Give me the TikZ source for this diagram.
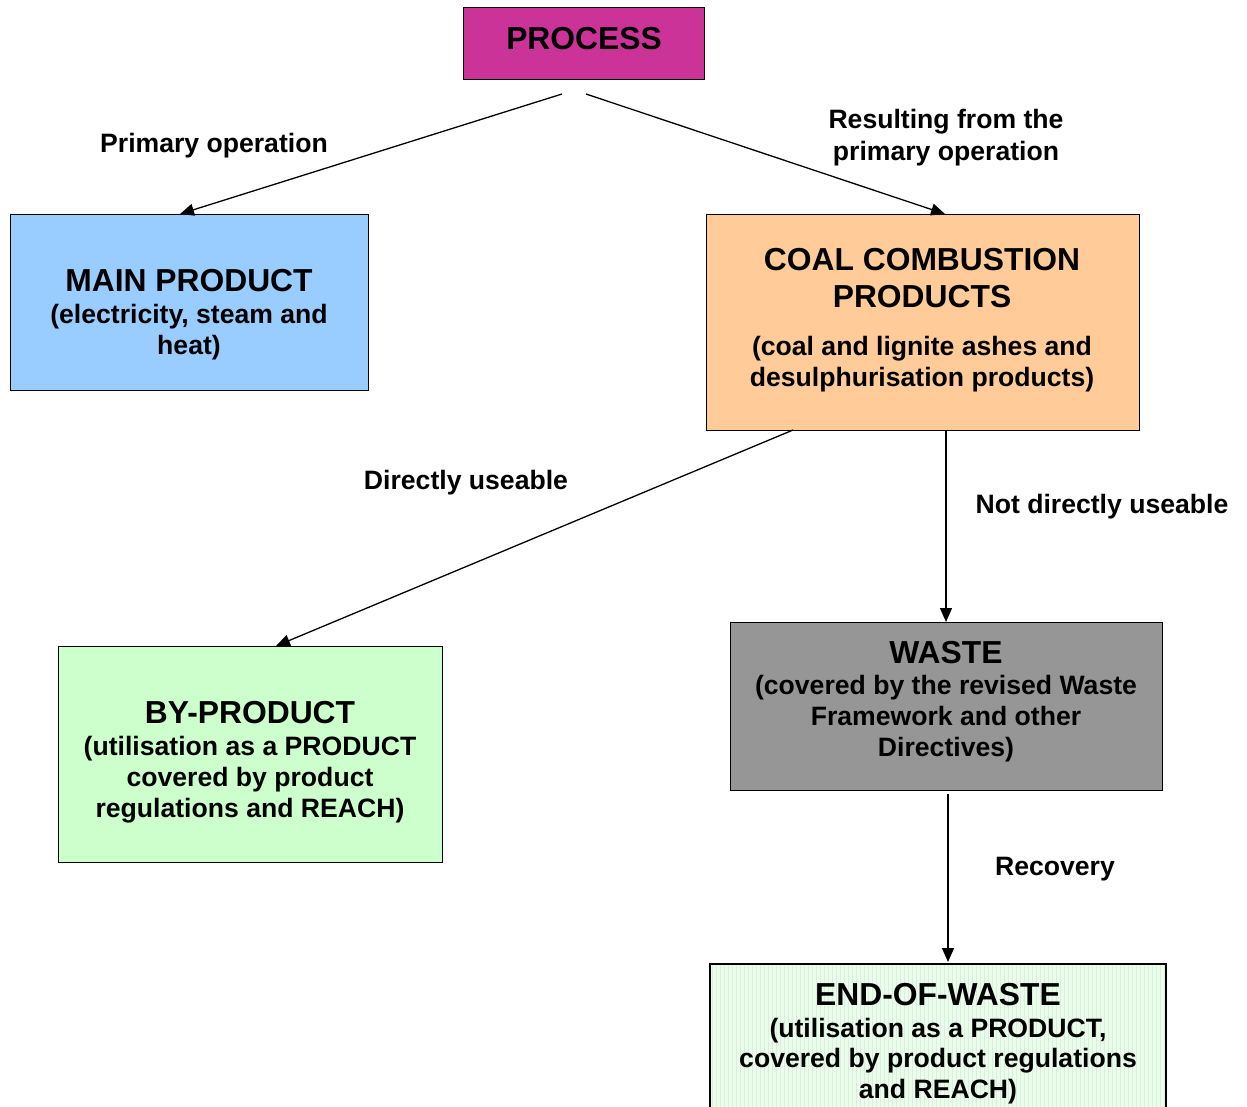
\documentclass[tikz,border=0pt]{standalone}
\usepackage{fontspec}
\setmainfont{Liberation Sans}
\usetikzlibrary{arrows.meta}
\definecolor{cproc}{HTML}{CC3399}
\definecolor{cmain}{HTML}{99CCFF}
\definecolor{ccoal}{HTML}{FFCC99}
\definecolor{cby}{HTML}{CCFFCC}
\definecolor{cwaste}{HTML}{969696}
\definecolor{ceow}{HTML}{ECFCEC}
\definecolor{ceowgrid}{HTML}{D8F2D8}
\begin{document}
\begin{tikzpicture}[x=1pt,y=-1pt,
  boxstyle/.style={draw=black, line width=1.4pt, inner sep=0pt, anchor=north west},
  ttl/.style={font=\fontsize{31.8}{34}\selectfont\bfseries, anchor=base, inner sep=0pt},
  sub/.style={font=\fontsize{26.6}{31}\selectfont\bfseries, anchor=base, inner sep=0pt},
  lbl/.style={font=\fontsize{26.6}{31}\selectfont\bfseries, anchor=base, inner sep=0pt},
  conn/.style={line width=1.3pt, -{Triangle[length=14pt,width=12pt]}}]
\clip (0,0) rectangle (1247,1106);
\fill[white] (0,0) rectangle (1247,1106);
% boxes
\node[boxstyle, fill=cproc, minimum width=241pt, minimum height=72pt] (proc) at (463,7) {};
\node[boxstyle, fill=cmain, minimum width=358pt, minimum height=176pt] (main) at (10,214) {};
\node[boxstyle, fill=ccoal, minimum width=433pt, minimum height=216pt] (coal) at (706,214) {};
\node[boxstyle, fill=cby, minimum width=384pt, minimum height=216pt] (by) at (58,646) {};
\node[boxstyle, fill=cwaste, minimum width=432pt, minimum height=168pt] (waste) at (730,622) {};
\node[boxstyle, fill=ceow, minimum width=456pt, minimum height=200pt] (eow) at (710,964) {};
\begin{scope}
\clip (710,964) rectangle (1166,1164);
\draw[ceowgrid, line width=0.4pt, step=4] (710,964) grid (1166,1164);
\end{scope}
\draw[line width=1.4pt] (710,964) rectangle (1166,1164);
% texts in boxes
\node[ttl] (tproc) at (584,49) {PROCESS};
\node[ttl] (tmain) at (189,291) {MAIN PRODUCT};
\node[sub] (smain1) at (189,323) {(electricity, steam and};
\node[sub] (smain2) at (189,354) {heat)};
\node[ttl] (tcoal1) at (922,270) {COAL COMBUSTION};
\node[ttl] (tcoal2) at (922,307) {PRODUCTS};
\node[sub] (scoal1) at (922,355) {(coal and lignite ashes and};
\node[sub] (scoal2) at (922,386) {desulphurisation products)};
\node[ttl] (tby) at (250,723) {BY-PRODUCT};
\node[sub] (sby1) at (250,755) {(utilisation as a PRODUCT};
\node[sub] (sby2) at (250,786) {covered by product};
\node[sub] (sby3) at (250,817) {regulations and REACH)};
\node[ttl] (twaste) at (946,663) {WASTE};
\node[sub] (swaste1) at (946,694) {(covered by the revised Waste};
\node[sub] (swaste2) at (946,725) {Framework and other};
\node[sub] (swaste3) at (946,756) {Directives)};
\node[ttl] (teow) at (938,1005) {END-OF-WASTE};
\node[sub] (seow1) at (938,1037) {(utilisation as a PRODUCT,};
\node[sub] (seow2) at (938,1067) {covered by product regulations};
\node[sub] (seow3) at (938,1098) {and REACH)};
% connector endpoints
\coordinate (s1) at (562,94);
\coordinate (e1) at (180,214);
\coordinate (s2) at (586,94);
\coordinate (e2) at (945,214);
\coordinate (s3) at (793,430);
\coordinate (e3) at (276,646);
\coordinate (s4) at (946,430);
\coordinate (e4) at (946,622);
\coordinate (s5) at (948,794);
\coordinate (e5) at (948,962);
\draw[conn] (s1) -- (e1);
\draw[conn] (s2) -- (e2);
\draw[conn] (s3) -- (e3);
\draw[conn] (s4) -- (e4);
\draw[conn] (s5) -- (e5);
% labels
\node[lbl] (l1) at (214,152) {Primary operation};
\node[lbl] (l2a) at (946,128) {Resulting from the};
\node[lbl] (l2b) at (946,160) {primary operation};
\node[lbl] (l3) at (466,489) {Directly useable};
\node[lbl] (l4) at (1102,513) {Not directly useable};
\node[lbl] (l5) at (1055,875) {Recovery};
\end{tikzpicture}
\end{document}
